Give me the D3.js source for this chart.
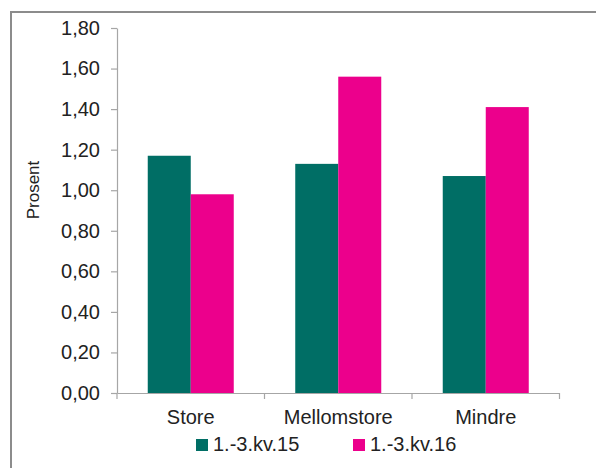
<!DOCTYPE html>
<html>
<head>
<meta charset="utf-8">
<script src="https://cdn.jsdelivr.net/npm/d3@7"></script>
<style>
  html, body { margin: 0; padding: 0; background: #fff; }
  svg { display: block; }
  text { font-family: "Liberation Sans", Arial, sans-serif; fill: #222; }
</style>
</head>
<body>
<svg id="chart" width="596" height="468"></svg>
<script>
const categories = ["Store", "Mellomstore", "Mindre"];
const seriesNames = ["1.-3.kv.15", "1.-3.kv.16"];
const values15 = [1.17, 1.13, 1.07];
const values16 = [0.98, 1.56, 1.41];
const yTicks = [0, 0.2, 0.4, 0.6, 0.8, 1.0, 1.2, 1.4, 1.6, 1.8];
const colors = ["#006e65", "#ec008c"];

(function () {
const svg = d3.select("#chart");
const mLeft = 117, mRight = 559.5, mTop = 28, mBottom = 393;
const FONT = "Liberation Sans, Arial, sans-serif";

// outer frame
svg.append("rect").attr("x", 11).attr("y", 12).attr("width", 640).attr("height", 520)
  .attr("fill", "none").attr("stroke", "#8c8c8c").attr("stroke-width", 2);

const x = d3.scaleBand().domain(categories).range([mLeft, mRight]).paddingInner(0).paddingOuter(0);
const y = d3.scaleLinear().domain([0, 1.8]).range([mBottom, mTop]);
const xs = d3.scaleBand().domain(seriesNames).range([0, x.bandwidth()]).paddingInner(0).paddingOuter(0.715);

const fmt = v => d3.format(".2f")(v).replace(".", ",");

// bars
const data = categories.map((c, i) => ({c, vals: [values15[i], values16[i]]}));
const g = svg.append("g");
data.forEach(d => {
  d.vals.forEach((v, j) => {
    g.append("rect")
      .attr("x", x(d.c) + xs(seriesNames[j]))
      .attr("y", y(v))
      .attr("width", xs.bandwidth())
      .attr("height", y(0) - y(v))
      .attr("fill", colors[j]);
  });
});

// y axis
const yAxis = svg.append("g").attr("transform", `translate(${mLeft},0)`)
  .call(d3.axisLeft(y).tickValues(yTicks).tickFormat(fmt).tickSize(6).tickSizeOuter(0).tickPadding(11));
yAxis.select(".domain").attr("stroke", "#a6a6a6").attr("stroke-width", 1.2);
yAxis.selectAll(".tick line").attr("stroke", "#a6a6a6").attr("stroke-width", 1.2);
yAxis.selectAll(".tick text").attr("font-size", 20).attr("fill", "#222").style("font-family", FONT);

// x axis
const xAxis = svg.append("g").attr("transform", `translate(0,${mBottom})`)
  .call(d3.axisBottom(x).tickSize(0).tickPadding(17));
xAxis.select(".domain").attr("stroke", "#a6a6a6").attr("stroke-width", 1.2);
xAxis.selectAll(".tick text").attr("font-size", 20).attr("fill", "#222").style("font-family", FONT);
const bounds = categories.map(c => x(c)).concat([x(categories[categories.length - 1]) + x.bandwidth()]);
xAxis.selectAll(".bnd").data(bounds).enter().append("line")
  .attr("x1", d => d).attr("x2", d => d).attr("y1", 0).attr("y2", 6)
  .attr("stroke", "#a6a6a6").attr("stroke-width", 1.2);

// y label
svg.append("text").attr("transform", "translate(39,190) rotate(-90)")
  .attr("text-anchor", "middle").attr("font-size", 17).style("font-family", FONT).text("Prosent");

// legend
const legendX = [196, 353];
seriesNames.forEach((s, i) => {
  svg.append("rect").attr("x", legendX[i]).attr("y", 439).attr("width", 12).attr("height", 12).attr("fill", colors[i]);
  svg.append("text").attr("x", legendX[i] + 17).attr("y", 451).attr("font-size", 20)
    .style("font-family", FONT).text(s);
});
})();
</script>
</body>
</html>
